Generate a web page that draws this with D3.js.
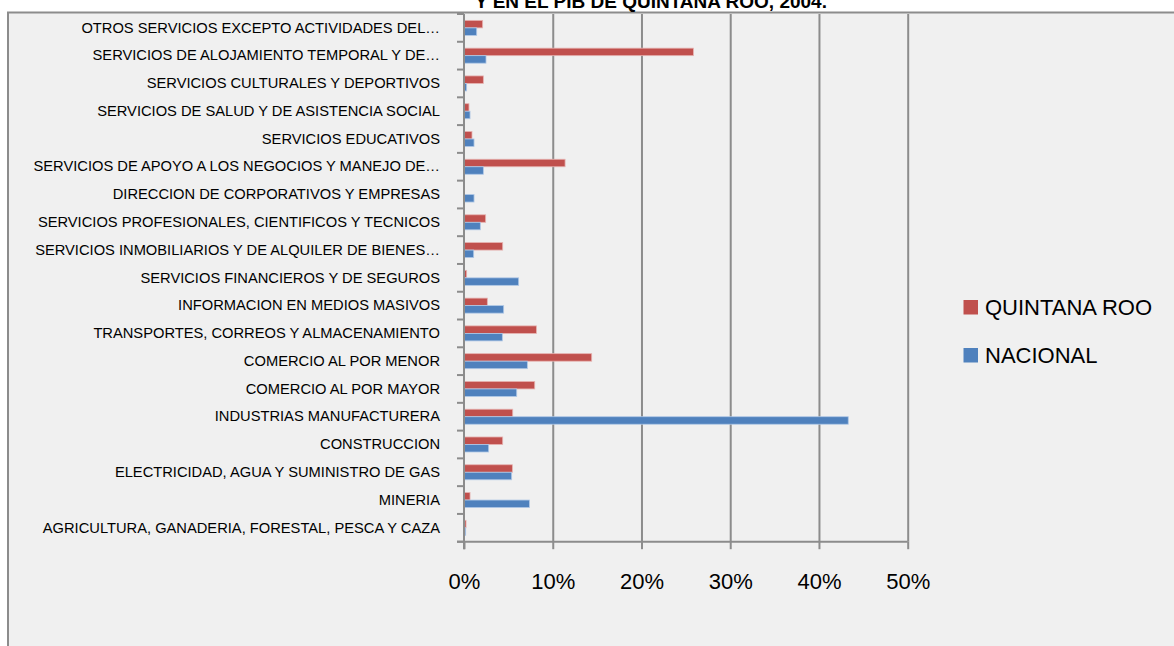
<!DOCTYPE html>
<html>
<head>
<meta charset="utf-8">
<script src="https://cdn.jsdelivr.net/npm/d3@7"></script>
<style>
  html, body { margin: 0; padding: 0; background: #ffffff; }
  svg { display: block; }
</style>
</head>
<body>
<svg id="chart" width="1174" height="646"></svg>
<script>
const titleText = "Y EN EL PIB DE QUINTANA ROO, 2004.";

const categories = [
  "OTROS SERVICIOS EXCEPTO ACTIVIDADES DEL…",
  "SERVICIOS DE ALOJAMIENTO TEMPORAL Y DE…",
  "SERVICIOS CULTURALES Y DEPORTIVOS",
  "SERVICIOS DE SALUD Y DE ASISTENCIA SOCIAL",
  "SERVICIOS EDUCATIVOS",
  "SERVICIOS DE APOYO A LOS NEGOCIOS Y MANEJO DE…",
  "DIRECCION DE CORPORATIVOS Y EMPRESAS",
  "SERVICIOS PROFESIONALES, CIENTIFICOS Y TECNICOS",
  "SERVICIOS INMOBILIARIOS Y DE ALQUILER DE BIENES…",
  "SERVICIOS FINANCIEROS Y DE SEGUROS",
  "INFORMACION EN MEDIOS MASIVOS",
  "TRANSPORTES, CORREOS Y ALMACENAMIENTO",
  "COMERCIO AL POR MENOR",
  "COMERCIO AL POR MAYOR",
  "INDUSTRIAS MANUFACTURERA",
  "CONSTRUCCION",
  "ELECTRICIDAD, AGUA Y SUMINISTRO DE GAS",
  "MINERIA",
  "AGRICULTURA, GANADERIA, FORESTAL, PESCA Y CAZA"
];

const quintanaRoo = [0.021, 0.2585, 0.0218, 0.0056, 0.009, 0.1139, 0.0, 0.0244, 0.0436, 0.003,
                     0.0263, 0.0816, 0.1439, 0.0797, 0.0549, 0.0436, 0.0545, 0.0068, 0.0023];
const nacional    = [0.0143, 0.0248, 0.003, 0.0068, 0.0113, 0.0218, 0.0113, 0.0184, 0.0109, 0.0616,
                     0.0447, 0.0432, 0.0714, 0.0594, 0.433, 0.0278, 0.0537, 0.0737, 0.0019];

const xTicks = [0, 0.1, 0.2, 0.3, 0.4, 0.5];

const seriesNames = ["QUINTANA ROO", "NACIONAL"];
const seriesColors = ["#c0504d", "#4f81bd"];
const seriesStroke = ["#e6b3b1", "#b0c8e6"];

const svg = d3.select("#chart");
const gridColor = "#8c8c8c";

// Frame
svg.append("rect")
  .attr("x", 8).attr("y", 12.5)
  .attr("width", 1180).attr("height", 650)
  .attr("fill", "#f0f0f0")
  .attr("stroke", gridColor).attr("stroke-width", 2);

// Title (clipped at top, as in the reference)
svg.append("text")
  .attr("x", 651).attr("y", 7.5)
  .attr("text-anchor", "middle")
  .attr("font-family", "Liberation Sans, Arial, sans-serif")
  .attr("font-weight", "bold")
  .attr("font-size", 19)
  .attr("fill", "#000")
  .text(titleText);

const plotTop = 14, plotBottom = 541.7;
const x = d3.scaleLinear().domain([0, 0.5]).range([464, 907.7]);
const y = d3.scaleBand().domain(categories).range([plotTop, plotBottom]).paddingInner(0).paddingOuter(0);
const sub = d3.scaleBand().domain(seriesNames).range([0, y.bandwidth()]).paddingInner(0).paddingOuter(0.85);

// Vertical gridlines
const gridAxis = d3.axisBottom(x).tickValues(xTicks.slice(1))
  .tickSize(-(plotBottom - plotTop)).tickFormat("");
const gg = svg.append("g").attr("transform", `translate(0,${plotBottom})`).call(gridAxis);
gg.select(".domain").remove();
gg.selectAll(".tick line").attr("stroke", gridColor).attr("stroke-width", 2);

// Bars
const data = categories.map((c, i) => ({ cat: c, vals: [quintanaRoo[i], nacional[i]] }));
const groups = svg.append("g").selectAll("g").data(data).join("g")
  .attr("transform", d => `translate(0,${y(d.cat)})`);
groups.selectAll("rect").data(d => d.vals.map((v, j) => ({ v, j })))
  .join("rect")
  .attr("x", x(0))
  .attr("y", d => sub(seriesNames[d.j]))
  .attr("width", d => Math.max(0, x(d.v) - x(0)))
  .attr("height", sub.bandwidth())
  .attr("fill", d => seriesColors[d.j])
  .attr("stroke", d => d.v > 0 ? seriesStroke[d.j] : "none")
  .attr("stroke-width", 0.8);

// X axis
const xAxis = d3.axisBottom(x).tickValues(xTicks).tickSize(7.5).tickPadding(24)
  .tickFormat(d3.format(".0%"));
const xg = svg.append("g").attr("transform", `translate(0,${plotBottom})`).call(xAxis);
xg.select(".domain").attr("d", `M${x(0) - 7},0H${x(0.5)}`).attr("stroke", gridColor).attr("stroke-width", 2);
xg.selectAll(".tick line").attr("stroke", gridColor).attr("stroke-width", 2);
xg.selectAll(".tick text")
  .attr("font-family", "Liberation Sans, Arial, sans-serif")
  .attr("font-size", 22).attr("fill", "#000");

// Y axis: labels at band centers
const yAxis = d3.axisLeft(y).tickSize(0).tickPadding(24);
const yg = svg.append("g").attr("transform", `translate(${x(0)},0)`).call(yAxis);
yg.select(".domain").remove();
yg.selectAll(".tick text")
  .attr("font-family", "Liberation Sans, Arial, sans-serif")
  .attr("font-size", 14.7).attr("fill", "#000");

// Y axis line and boundary ticks
svg.append("line")
  .attr("x1", x(0)).attr("x2", x(0))
  .attr("y1", plotTop).attr("y2", plotBottom + 7.5)
  .attr("stroke", gridColor).attr("stroke-width", 2);
const boundaries = categories.map(c => y(c)).concat([plotBottom]);
svg.append("g").selectAll("line").data(boundaries).join("line")
  .attr("x1", x(0) - 7).attr("x2", x(0))
  .attr("y1", d => d).attr("y2", d => d)
  .attr("stroke", gridColor).attr("stroke-width", 2);

// Legend
const legend = svg.append("g");
const legendY = [300, 348];
seriesNames.forEach((name, i) => {
  legend.append("rect")
    .attr("x", 963.5).attr("y", legendY[i])
    .attr("width", 14.5).attr("height", 14.5)
    .attr("fill", seriesColors[i]);
  legend.append("text")
    .attr("x", 985).attr("y", legendY[i] + 15)
    .attr("font-family", "Liberation Sans, Arial, sans-serif")
    .attr("font-size", 22).attr("fill", "#000")
    .text(name);
});
</script>
</body>
</html>
